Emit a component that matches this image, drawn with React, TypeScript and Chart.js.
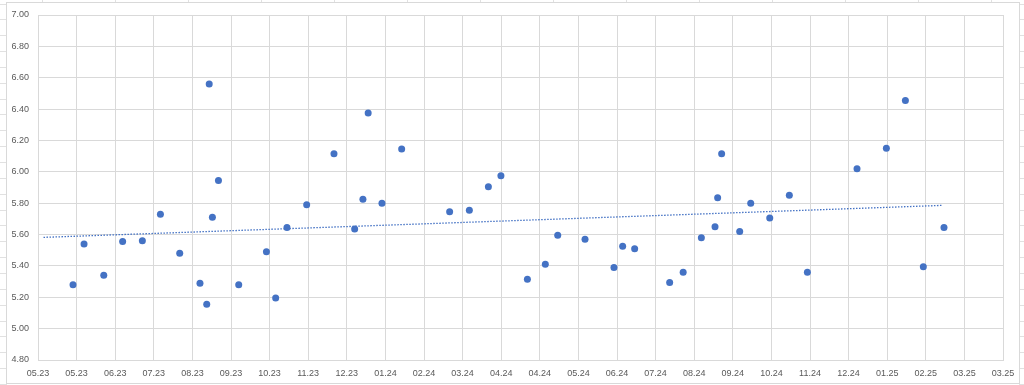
import React, { useEffect, useRef } from "react";
import { Chart, registerables } from "chart.js";

Chart.register(...registerables);

// X axis tick labels (major unit 28 days, starting 01.05.2023)
const tickLabels = [
  "05.23", "05.23", "06.23", "07.23", "08.23", "09.23", "10.23", "11.23", "12.23",
  "01.24", "02.24", "03.24", "04.24", "04.24", "05.24", "06.24", "07.24", "08.24",
  "09.24", "10.24", "11.24", "12.24", "01.25", "02.25", "03.25", "03.25",
];

// Days since axis start (01.05.2023)
const dayOffsets = [
  25.4, 33.4, 47.7, 61.4, 75.7, 88.8, 102.8, 117.5, 122.4, 124.2,
  126.5, 130.9, 145.6, 165.7, 172.4, 180.6, 194.9, 214.7, 229.7, 235.7,
  239.5, 249.5, 263.8, 298.6, 312.9, 326.7, 335.8, 355.0, 368.0, 377.0,
  396.8, 417.8, 424.1, 432.8, 458.2, 468.0, 481.2, 491.1, 493.0, 495.9,
  509.0, 517.0, 530.8, 545.0, 558.1, 594.1, 615.4, 629.2, 642.2, 657.2,
];

const values = [
  5.28, 5.54, 5.34, 5.555, 5.56, 5.73, 5.48, 5.29, 5.155, 6.56,
  5.71, 5.945, 5.28, 5.49, 5.195, 5.645, 5.79, 6.115, 5.635, 5.825,
  6.375, 5.80, 6.145, 5.745, 5.755, 5.905, 5.975, 5.315, 5.41, 5.595,
  5.57, 5.39, 5.525, 5.51, 5.295, 5.36, 5.58, 5.65, 5.835, 6.115,
  5.62, 5.80, 5.705, 5.85, 5.36, 6.02, 6.15, 6.455, 5.395, 5.645,
];

// Linear trendline as drawn (start and end)
const trendDays = [4, 656];
const trendValues = [5.582, 5.786];

const AXIS_MAX_DAYS = 700;
const MAJOR_UNIT = 28;

const sheetBackground = {
  id: "sheetBackground",
  beforeDraw(chart: any) {
    const ctx = chart.ctx as CanvasRenderingContext2D;
    const W = chart.width;
    const H = chart.height;
    ctx.save();
    ctx.fillStyle = "#ffffff";
    ctx.fillRect(0, 0, W, H);
    ctx.strokeStyle = "#e1e1e1";
    ctx.lineWidth = 1;
    // column borders above the chart object
    for (let x = 41.5; x < W; x += 73) {
      ctx.beginPath();
      ctx.moveTo(Math.round(x) + 0.5, 0);
      ctx.lineTo(Math.round(x) + 0.5, 3);
      ctx.stroke();
    }
    // row borders left and right of the chart object
    for (let y = 3.5; y < H; y += 15.85) {
      ctx.beginPath();
      ctx.moveTo(0, Math.round(y) + 0.5);
      ctx.lineTo(7, Math.round(y) + 0.5);
      ctx.moveTo(1019, Math.round(y) + 0.5);
      ctx.lineTo(W, Math.round(y) + 0.5);
      ctx.stroke();
    }
    // chart object frame
    ctx.strokeStyle = "#d9d9d9";
    ctx.strokeRect(6.5, 2.5, 1013, 381);
    ctx.restore();
  },
};

export default function App() {
  const ref = useRef<HTMLCanvasElement | null>(null);

  useEffect(() => {
    document.body.style.margin = "0";
    const canvas = ref.current;
    if (!canvas) return;
    const blue = "#4472C4";
    const grid = "#d9d9d9";
    const font = { family: "'Liberation Sans', Arial, sans-serif", size: 9 };

    const chart = new Chart(canvas, {
      type: "scatter",
      data: {
        datasets: [
          {
            label: "Werte",
            data: dayOffsets.map((d, i) => ({ x: d, y: values[i] })),
            backgroundColor: blue,
            borderColor: blue,
            borderWidth: 0,
            pointRadius: 3.5,
            pointHoverRadius: 3.5,
          },
          {
            type: "line",
            label: "Trend",
            data: trendDays.map((d, i) => ({ x: d, y: trendValues[i] })),
            borderColor: blue,
            borderWidth: 1.3,
            borderDash: [1.5, 1.5],
            pointRadius: 0,
            showLine: true,
            fill: false,
          } as any,
        ],
      },
      options: {
        responsive: false,
        animation: false,
        devicePixelRatio: 1,
        layout: { padding: { left: 8, top: 15, right: 21, bottom: 0 } },
        plugins: {
          legend: { display: false },
          tooltip: { enabled: false },
        },
        scales: {
          x: {
            type: "linear",
            min: 0,
            max: AXIS_MAX_DAYS,
            afterFit: (s: any) => {
              s.height = 25;
            },
            grid: { color: grid, lineWidth: 1, drawTicks: false },
            border: { color: grid },
            ticks: {
              stepSize: MAJOR_UNIT,
              autoSkip: false,
              maxRotation: 0,
              padding: 8,
              color: "#595959",
              font,
              callback: (_v: any, i: number) => tickLabels[i] ?? "",
            },
          },
          y: {
            type: "linear",
            min: 4.8,
            max: 7.0,
            afterFit: (s: any) => {
              s.width = 30;
            },
            grid: { color: grid, lineWidth: 1, drawTicks: false },
            border: { color: grid },
            ticks: {
              stepSize: 0.2,
              padding: 9,
              color: "#595959",
              font,
              callback: (v: any) => Number(v).toFixed(2),
            },
          },
        },
      },
      plugins: [sheetBackground],
    });
    return () => chart.destroy();
  }, []);

  return (
    <canvas
      ref={ref}
      width={1024}
      height={385}
      style={{ display: "block", width: 1024, height: 385 }}
    />
  );
}
